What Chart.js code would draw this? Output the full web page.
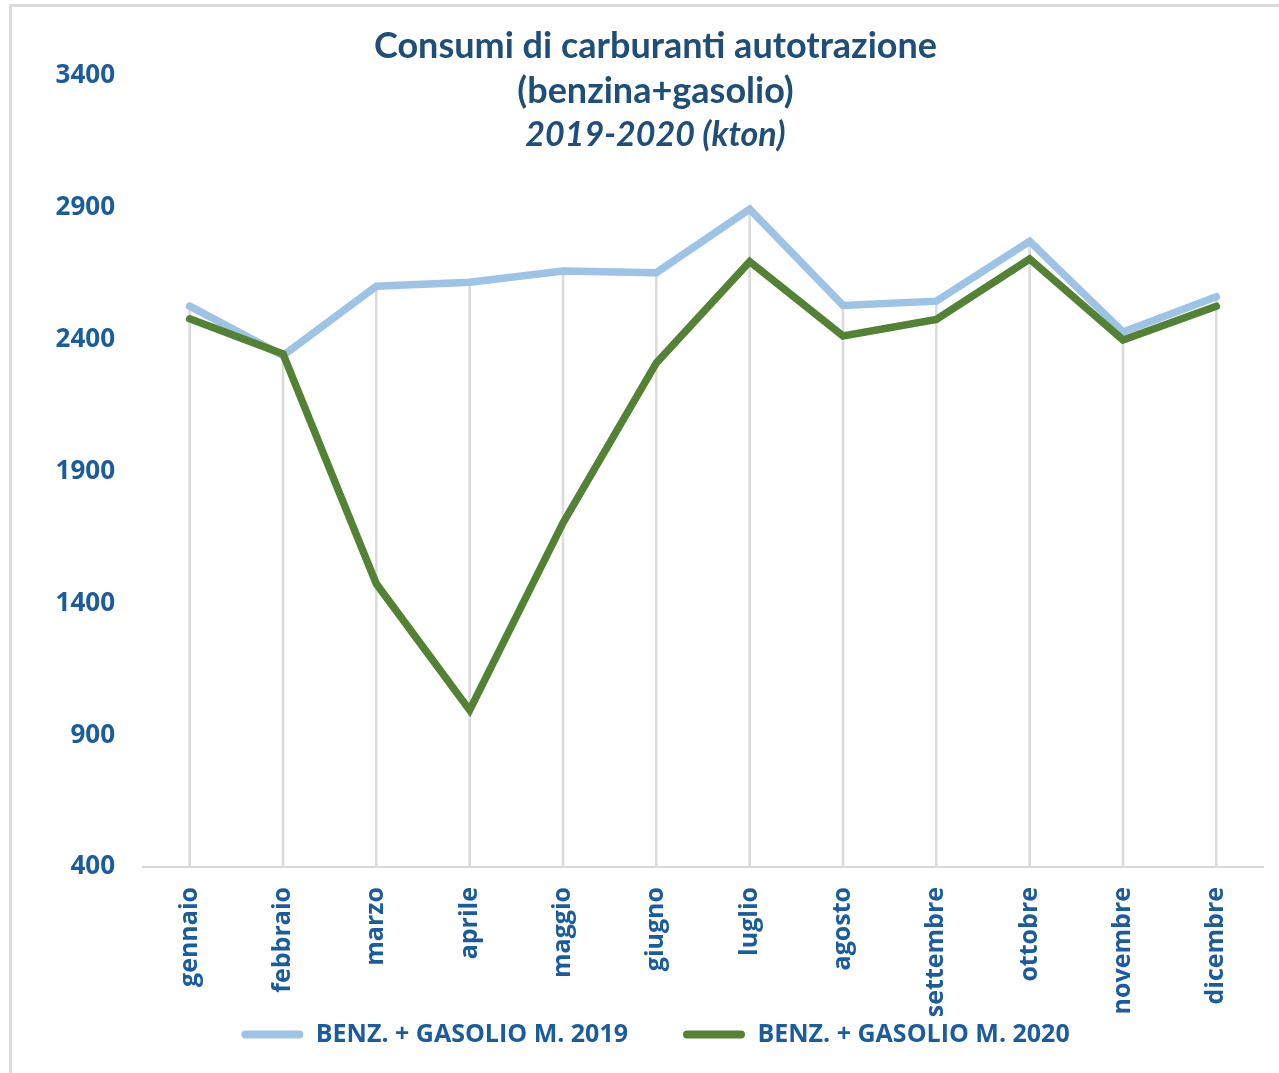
<!DOCTYPE html>
<html>
<head>
<meta charset="utf-8">
<script src="https://cdn.jsdelivr.net/npm/chart.js@4/dist/chart.umd.min.js"></script>
<style>
  html, body { margin: 0; padding: 0; background: #ffffff; }
  #frame { position: absolute; left: 9px; top: 4px; width: 1290px; height: 1100px;
           border-top: 3px solid #dadada; border-left: 3px solid #dadada; box-sizing: border-box; }
  #wrap { position: absolute; left: 0; top: 0; width: 1279px; height: 1073px; }
</style>
</head>
<body>
<div id="frame"></div>
<div id="wrap"><canvas id="c" width="1279" height="1073"></canvas></div>
<script>
const categories = ["gennaio","febbraio","marzo","aprile","maggio","giugno","luglio","agosto","settembre","ottobre","novembre","dicembre"];
const series2019 = [2527, 2340, 2603, 2618, 2660, 2654, 2895, 2530, 2546, 2773, 2429, 2563];
const series2020 = [2479, 2346, 1474, 995, 1705, 2312, 2696, 2414, 2477, 2706, 2399, 2527];
const seriesNames = ["BENZ. + GASOLIO M. 2019", "BENZ. + GASOLIO M. 2020"];
const titleLines = ["Consumi di carburanti autotrazione", "(benzina+gasolio)"];
const subtitleLine = "2019-2020 (kton)";
const yMin = 400, yMax = 3400, yStep = 500;

const tickColor = "#1b5c9e";
const titleColor = "#1f4e79";
const OPEN = "'Open Sans', sans-serif";
const LATO = "Lato, sans-serif";

// drop lines: from the higher of the two series down to the axis
const dropLines = categories.map((_, i) => Math.max(series2019[i], series2020[i]));

function draw() {
  new Chart(document.getElementById("c"), {
    type: "line",
    data: {
      labels: categories,
      datasets: [
        { label: seriesNames[0], data: series2019, borderColor: "#9dc3e6", backgroundColor: "#9dc3e6",
          borderWidth: 7.5, pointRadius: 0, borderCapStyle: "round", borderJoinStyle: "miter", tension: 0, order: 1 },
        { label: seriesNames[1], data: series2020, borderColor: "#548235", backgroundColor: "#548235",
          borderWidth: 7.5, pointRadius: 0, borderCapStyle: "round", borderJoinStyle: "miter", tension: 0, order: 0 },
        { type: "bar", label: "drop", data: dropLines, backgroundColor: "#dcdcdc", borderWidth: 0,
          barThickness: 2, order: 5 }
      ]
    },
    options: {
      responsive: false,
      animation: false,
      devicePixelRatio: 1,
      layout: { padding: { left: 48, right: 16, top: 0, bottom: 16 } },
      plugins: {
        title: {
          display: true,
          text: titleLines,
          color: titleColor,
          font: { family: LATO, size: 36, weight: "bold", lineHeight: 1.25 },
          padding: { top: 23.5, bottom: -37.5 }
        },
        subtitle: {
          display: true,
          text: subtitleLine,
          color: titleColor,
          font: { family: LATO, size: 34, weight: "bold", style: "italic", lineHeight: 1.25 },
          padding: { top: 37.75, bottom: -80.25 }
        },
        legend: {
          display: true,
          position: "bottom",
          labels: {
            color: tickColor,
            font: { family: OPEN, size: 25, weight: "bold" },
            boxWidth: 62,
            boxHeight: 8,
            padding: 55,
            useBorderRadius: true,
            borderRadius: 4,
            filter: item => item.datasetIndex < 2,
            sort: (a, b) => a.datasetIndex - b.datasetIndex,
            generateLabels: chart => Chart.defaults.plugins.legend.labels.generateLabels(chart)
              .map(it => Object.assign(it, { lineWidth: 0, strokeStyle: "rgba(0,0,0,0)" }))
          }
        },
        tooltip: { enabled: false }
      },
      scales: {
        x: {
          offset: true,
          grid: { display: false, drawTicks: false },
          border: { display: true, color: "#d9d9d9", width: 2 },
          ticks: {
            color: tickColor,
            font: { family: OPEN, size: 25, weight: "bold" },
            minRotation: 90, maxRotation: 90, padding: 20, autoSkip: false
          },
          afterFit: s => {
            s.height = 100;
            // let the long rotated month names run past the axis box, over the legend area
            s._computeLabelArea = () => undefined;
          }
        },
        y: {
          min: yMin, max: yMax,
          grid: { display: false, drawTicks: false },
          border: { display: false },
          ticks: {
            stepSize: yStep,
            color: tickColor,
            font: { family: OPEN, size: 26, weight: "bold" },
            padding: 28,
            format: { useGrouping: false }
          },
          afterFit: s => { s.width = 95; }
        }
      }
    }
  });
}

Promise.all([
  document.fonts.load("bold 25px 'Open Sans'"),
  document.fonts.load("bold 36px Lato"),
  document.fonts.load("italic bold 34px Lato")
]).then(draw, draw);
</script>
</body>
</html>
